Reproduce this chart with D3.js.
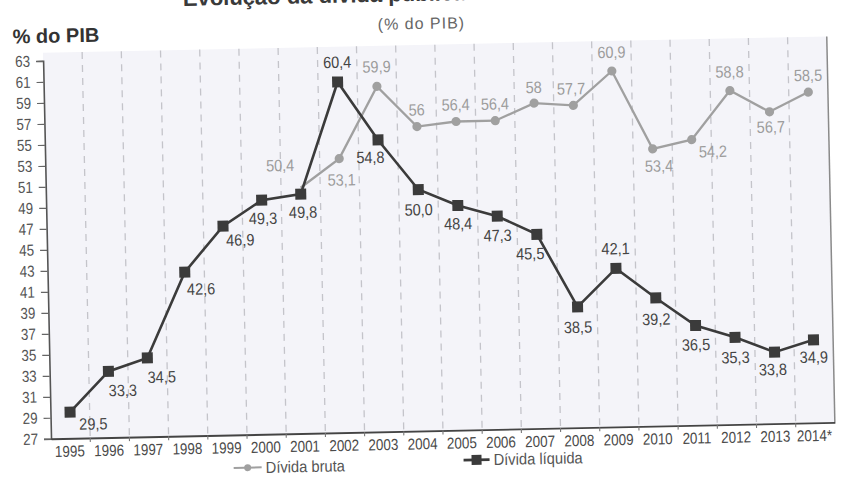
<!DOCTYPE html>
<html lang="pt">
<head>
<meta charset="utf-8">
<script src="https://cdn.jsdelivr.net/npm/d3@7"></script>
<style>
  html, body { margin: 0; padding: 0; background: #ffffff; }
  svg { display: block; }
  text { font-family: "Liberation Sans", Arial, sans-serif; }
</style>
</head>
<body>
<svg id="chart" width="841" height="487"></svg>
<script>
// Evolução da dívida pública do setor público (% do PIB)
const years = ["1995","1996","1997","1998","1999","2000","2001","2002","2003","2004",
               "2005","2006","2007","2008","2009","2010","2011","2012","2013","2014"];
const yearLabels = ["1995","1996","1997","1998","1999","2000","2001","2002","2003","2004",
                    "2005","2006","2007","2008","2009","2010","2011","2012","2013","2014*"];

// Dívida líquida, 1995–2014
const dividaLiquida = [29.5, 33.3, 34.5, 42.6, 46.9, 49.3, 49.8, 60.4, 54.8, 50.0,
                       48.4, 47.3, 45.5, 38.5, 42.1, 39.2, 36.5, 35.3, 33.8, 34.9];
// Dívida bruta, 2001–2014
const brutaYears = ["2001","2002","2003","2004","2005","2006","2007","2008","2009","2010",
                    "2011","2012","2013","2014"];
const dividaBruta = [50.4, 53.1, 59.9, 56.0, 56.4, 56.4, 58.0, 57.7, 60.9, 53.4,
                     54.2, 58.8, 56.7, 58.5];

const yTicks = d3.range(27, 64, 2);

// label placement (dx, dy from the marker centre)
const liqLabelOffset = [[23,12],[14,19],[14,19],[16,17],[17,14],[1,18],[2,18],[0,-20],[-8,17],[0,20],
                        [0,18],[0,19],[-7,19],[0,20],[0,-20],[0,21],[0,19],[0,20],[-2,17],[0,17]];
const brutaLabelOffset = [[-20,-23],[2,21],[0,-20],[0,-17],[0,-17],[0,-17],[0,-16],[-2,-17],[0,-19],[6,17],
                          [21,12],[0,-19],[1,15],[0,-17]];

// whole numbers in the bruta series are printed without decimals
const fmtLiq = v => v.toFixed(1).replace(".", ",");
const fmtBruta = v => (Number.isInteger(v) ? String(v) : v.toFixed(1)).replace(".", ",");

// narrow lettering: squeeze text horizontally around its own anchor x
function condense(sel, k) {
  sel.each(function () {
    const t = d3.select(this);
    const xv = +(t.attr("x") || 0);
    t.attr("x", xv / k).attr("transform", `scale(${k},1)`);
  });
}

const svg = d3.select("#chart");
const root = svg.append("g").attr("transform", "rotate(-1.2, 420, 243)");

const plotLeft = 47, plotRight = 831, plotTop = 45, plotBottom = 431;
const x = d3.scaleBand().domain(years).range([plotLeft, plotRight]).padding(0);
const cx = d => x(d) + x.bandwidth() / 2;
const y = d3.scaleLinear().domain([27, 63]).range([plotBottom, 53]);

// Title (runs off the top edge) and subtitle
root.append("text")
  .attr("x", 188).attr("y", 1)
  .attr("font-weight", "bold").attr("font-size", 22).attr("fill", "#3a3a3a")
  .text("Evolução da dívida pública");
root.append("text")
  .attr("x", 426).attr("y", 29).attr("text-anchor", "middle")
  .attr("font-size", 16).attr("letter-spacing", 1).attr("fill", "#666")
  .text("(% do PIB)");
root.append("text")
  .attr("x", 17).attr("y", 35)
  .attr("font-weight", "bold").attr("font-size", 20).attr("fill", "#333")
  .text("% do PIB");

// Plot background
root.append("rect")
  .attr("x", plotLeft).attr("y", plotTop)
  .attr("width", plotRight - plotLeft).attr("height", plotBottom - plotTop)
  .attr("fill", "#f4f4f9");

// Dashed vertical gridlines between the years
const bounds = years.slice(1).map(d => x(d));
root.append("g").selectAll("line").data(bounds).join("line")
  .attr("x1", d => d).attr("x2", d => d)
  .attr("y1", plotTop).attr("y2", plotBottom)
  .attr("stroke", "#c4c4ca").attr("stroke-width", 1.3)
  .attr("stroke-dasharray", "7,6");

// Right frame line
root.append("line")
  .attr("x1", plotRight).attr("x2", plotRight).attr("y1", plotTop).attr("y2", plotBottom)
  .attr("stroke", "#8a8a8a").attr("stroke-width", 1.5);

// Y axis
const yAxis = root.append("g")
  .attr("transform", `translate(${plotLeft},0)`)
  .call(d3.axisLeft(y).tickValues(yTicks).tickSize(7).tickPadding(6));
yAxis.attr("font-family", null).attr("font-size", null);
yAxis.select(".domain").attr("stroke", "#555").attr("stroke-width", 1.6);
yAxis.selectAll(".tick line").attr("stroke", "#666").attr("stroke-width", 1.2);
yAxis.selectAll(".tick text").attr("font-size", 16).attr("fill", "#555")
  .call(condense, 0.84);

// X axis
const xAxis = root.append("g")
  .attr("transform", `translate(0,${plotBottom})`)
  .call(d3.axisBottom(x).tickSize(0).tickPadding(7).tickFormat((d, i) => yearLabels[i]));
xAxis.attr("font-family", null).attr("font-size", null);
xAxis.select(".domain").attr("stroke", "#444").attr("stroke-width", 1.8);
xAxis.selectAll(".tick text").attr("font-size", 16).attr("fill", "#4a4a4a")
  .attr("x", -1).call(condense, 0.84);
root.append("g").selectAll("line").data(bounds).join("line")
  .attr("x1", d => d).attr("x2", d => d)
  .attr("y1", plotBottom).attr("y2", plotBottom + 4)
  .attr("stroke", "#777").attr("stroke-width", 1.1);

// Dívida bruta
const brutaColor = "#a0a0a0";
const brutaData = brutaYears.map((yr, i) => ({ yr, v: dividaBruta[i], off: brutaLabelOffset[i] }));
root.append("path").datum(brutaData)
  .attr("fill", "none").attr("stroke", brutaColor).attr("stroke-width", 2.3)
  .attr("d", d3.line().x(d => cx(d.yr)).y(d => y(d.v)));
root.append("g").selectAll("circle").data(brutaData.slice(1)).join("circle")
  .attr("cx", d => cx(d.yr)).attr("cy", d => y(d.v)).attr("r", 4.6)
  .attr("fill", brutaColor);

// Dívida líquida
const liqColor = "#3b3b3b";
const liqData = years.map((yr, i) => ({ yr, v: dividaLiquida[i], off: liqLabelOffset[i] }));
root.append("path").datum(liqData)
  .attr("fill", "none").attr("stroke", liqColor).attr("stroke-width", 2.6)
  .attr("d", d3.line().x(d => cx(d.yr)).y(d => y(d.v)));
root.append("g").selectAll("rect").data(liqData).join("rect")
  .attr("x", d => cx(d.yr) - 5.5).attr("y", d => y(d.v) - 5.5)
  .attr("width", 11).attr("height", 11)
  .attr("fill", liqColor);

// Value labels
root.append("g").selectAll("text").data(brutaData).join("text")
  .attr("x", d => cx(d.yr) + d.off[0]).attr("y", d => y(d.v) + d.off[1])
  .attr("dy", "0.36em").attr("text-anchor", "middle")
  .attr("font-size", 16.5).attr("fill", "#9c9c9c")
  .text(d => fmtBruta(d.v))
  .call(condense, 0.88);
root.append("g").selectAll("text").data(liqData).join("text")
  .attr("x", d => cx(d.yr) + d.off[0]).attr("y", d => y(d.v) + d.off[1])
  .attr("dy", "0.36em").attr("text-anchor", "middle")
  .attr("font-size", 16.5).attr("fill", "#444")
  .text(d => fmtLiq(d.v))
  .call(condense, 0.88);

// Legend
const legend = root.append("g");
const lb = legend.append("g").attr("transform", "translate(229,464)");
lb.append("line").attr("x1", 0).attr("x2", 28).attr("stroke", brutaColor).attr("stroke-width", 2);
lb.append("circle").attr("cx", 14).attr("r", 3.5).attr("fill", brutaColor);
lb.append("text").attr("x", 32).attr("dy", "0.35em").attr("font-size", 16).attr("fill", "#555")
  .text("Dívida bruta").call(condense, 0.92);
const ll = legend.append("g").attr("transform", "translate(459,461)");
ll.append("line").attr("x1", 0).attr("x2", 26).attr("stroke", liqColor).attr("stroke-width", 2.6);
ll.append("rect").attr("x", 8).attr("y", -5).attr("width", 10).attr("height", 10).attr("fill", liqColor);
ll.append("text").attr("x", 30).attr("dy", "0.35em").attr("font-size", 16).attr("fill", "#555")
  .text("Dívida líquida").call(condense, 0.92);
</script>
</body>
</html>
